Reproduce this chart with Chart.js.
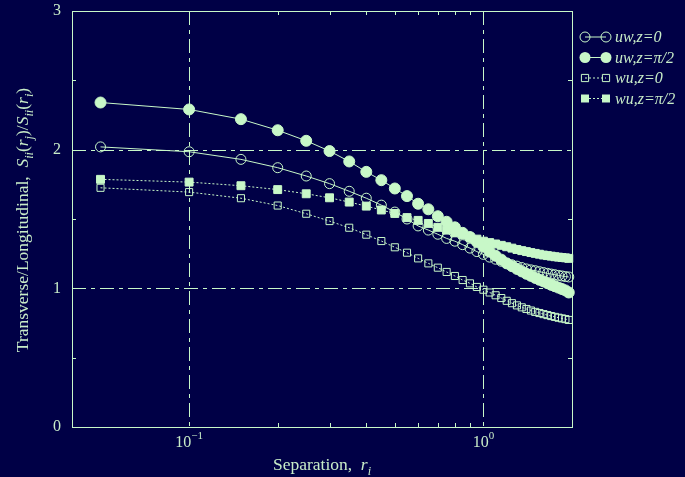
<!DOCTYPE html>
<html lang="en">
<head>
<meta charset="UTF-8">
<title>Transverse/Longitudinal</title>
<script src="https://cdn.jsdelivr.net/npm/chart.js"></script>
<style>
  html, body { margin: 0; padding: 0; background: #000046; }
  #wrap { width: 685px; height: 477px; }
</style>
</head>
<body>
<div id="wrap"><canvas id="ratioChart"></canvas></div>
<script>
// separations r
const sep = [0.05, 0.10, 0.15, 0.20, 0.25, 0.30, 0.35, 0.40, 0.45, 0.50,
             0.55, 0.60, 0.65, 0.70, 0.75, 0.80, 0.85, 0.90, 0.95, 1.00,
             1.05, 1.10, 1.15, 1.20, 1.25, 1.30, 1.35, 1.40, 1.45, 1.50,
             1.55, 1.60, 1.65, 1.70, 1.75, 1.80, 1.85, 1.90, 1.95];

const uwZ0 = [2.02, 1.985, 1.93, 1.87, 1.81, 1.755, 1.70, 1.65, 1.60, 1.55,
              1.50, 1.45, 1.42, 1.39, 1.36, 1.34, 1.315, 1.29, 1.265, 1.245,
              1.225, 1.21, 1.195, 1.18, 1.17, 1.16, 1.15, 1.14, 1.133, 1.127,
              1.12, 1.114, 1.108, 1.103, 1.098, 1.093, 1.089, 1.085, 1.082];
const uwZpi = [2.34, 2.29, 2.22, 2.14, 2.064, 1.99, 1.915, 1.84, 1.78, 1.72,
               1.665, 1.61, 1.57, 1.52, 1.48, 1.44, 1.40, 1.37, 1.335, 1.30,
               1.265, 1.235, 1.207, 1.18, 1.16, 1.14, 1.122, 1.105, 1.09, 1.075,
               1.062, 1.05, 1.037, 1.025, 1.015, 1.005, 0.995, 0.985, 0.97];
const wuZ0 = [1.725, 1.694, 1.65, 1.597, 1.538, 1.485, 1.437, 1.387, 1.341, 1.296,
              1.257, 1.216, 1.18, 1.149, 1.118, 1.089, 1.06, 1.036, 1.01, 0.99,
              0.97, 0.95, 0.93, 0.91, 0.893, 0.877, 0.863, 0.851, 0.84, 0.83,
              0.822, 0.814, 0.807, 0.80, 0.794, 0.788, 0.783, 0.778, 0.772];
const wuZpi = [1.786, 1.766, 1.74, 1.712, 1.682, 1.653, 1.622, 1.593, 1.565, 1.54,
               1.51, 1.49, 1.468, 1.44, 1.42, 1.40, 1.385, 1.37, 1.355, 1.34,
               1.33, 1.32, 1.31, 1.30, 1.29, 1.28, 1.272, 1.265, 1.258, 1.252,
               1.246, 1.24, 1.236, 1.232, 1.228, 1.225, 1.222, 1.22, 1.216];

const xGrid = [0.1, 1];
const xMinor = [0.2, 0.3, 0.4, 0.5, 0.6, 0.7, 0.8, 0.9];
const xTickLabels = [[0.1, '10', '\u22121'], [1, '10', '0']];
const yGrid = [1, 2];
const yTicks = [0, 1, 2, 3];
const yMinor = [0.5, 1.5, 2.5];

const bg = '#000046';
const ink = '#c8f8c8';
const textInk = '#c8ecc8';
const serif = '"Liberation Serif", "Times New Roman", serif';

function pts(ys) {
  return sep.map((r, i) => ({ x: r, y: ys[i] }));
}

const series = [
  { label: 'uw,z=0',   data: pts(uwZ0),  style: 'circle', filled: false, dash: [] },
  { label: 'uw,z=\u03c0/2', data: pts(uwZpi), style: 'circle', filled: true, dash: [] },
  { label: 'wu,z=0',   data: pts(wuZ0),  style: 'rect', filled: false, dash: [2, 2] },
  { label: 'wu,z=\u03c0/2', data: pts(wuZpi), style: 'rect', filled: true, dash: [2, 2] }
];

// draw a run of text pieces: [text, italic, sub]
function richWidth(ctx, segs, size) {
  let w = 0;
  segs.forEach(s => {
    ctx.font = (s[1] ? 'italic ' : '') + (s[2] ? size * 0.7 : size) + 'px ' + serif;
    w += ctx.measureText(s[0]).width;
  });
  return w;
}
function drawRich(ctx, segs, x, y, size) {
  let cx = x - richWidth(ctx, segs, size) / 2;
  ctx.textAlign = 'left';
  ctx.textBaseline = 'alphabetic';
  segs.forEach(s => {
    ctx.font = (s[1] ? 'italic ' : '') + (s[2] ? size * 0.7 : size) + 'px ' + serif;
    ctx.fillText(s[0], cx, y + (s[2] ? size * 0.3 : 0));
    cx += ctx.measureText(s[0]).width;
  });
}

function marker(ctx, style, filled, x, y) {
  ctx.beginPath();
  if (style === 'circle') {
    ctx.arc(x, y, filled ? 5.5 : 5, 0, Math.PI * 2);
  } else {
    const h = filled ? 4 : 3.6;
    ctx.rect(x - h, y - h, 2 * h, 2 * h);
  }
  if (filled) ctx.fill(); else ctx.stroke();
}

const framePlugin = {
  id: 'frame',
  beforeDraw(chart) {
    const ctx = chart.ctx;
    ctx.save();
    ctx.fillStyle = bg;
    ctx.fillRect(0, 0, chart.width, chart.height);
    ctx.restore();
  },
  beforeDatasetsDraw(chart) {
    const { ctx, chartArea: a, scales: { x, y } } = chart;
    ctx.save();
    ctx.strokeStyle = ink;
    ctx.lineWidth = 1;
    ctx.setLineDash([14, 5, 4, 5]);
    xGrid.forEach(v => {
      const px = Math.round(x.getPixelForValue(v)) + 0.5;
      ctx.beginPath(); ctx.moveTo(px, a.top); ctx.lineTo(px, a.bottom); ctx.stroke();
    });
    yGrid.forEach(v => {
      const py = Math.round(y.getPixelForValue(v)) + 0.5;
      ctx.beginPath(); ctx.moveTo(a.left, py); ctx.lineTo(a.right, py); ctx.stroke();
    });
    ctx.setLineDash([]);
    // minor ticks, inward on every side
    xMinor.forEach(v => {
      const px = Math.round(x.getPixelForValue(v)) + 0.5;
      ctx.beginPath();
      ctx.moveTo(px, a.bottom); ctx.lineTo(px, a.bottom - 4);
      ctx.moveTo(px, a.top); ctx.lineTo(px, a.top + 4);
      ctx.stroke();
    });
    yMinor.forEach(v => {
      const py = Math.round(y.getPixelForValue(v)) + 0.5;
      ctx.beginPath();
      ctx.moveTo(a.left, py); ctx.lineTo(a.left + 4, py);
      ctx.moveTo(a.right, py); ctx.lineTo(a.right - 4, py);
      ctx.stroke();
    });
    ctx.strokeRect(Math.round(a.left) + 0.5, Math.round(a.top) + 0.5,
                   Math.round(a.right - a.left), Math.round(a.bottom - a.top));
    ctx.restore();
  },
  afterDraw(chart) {
    const { ctx, chartArea: a, scales: { x, y } } = chart;
    ctx.save();
    ctx.fillStyle = textInk;
    // y tick labels
    ctx.font = '16px ' + serif;
    ctx.textAlign = 'right';
    ctx.textBaseline = 'middle';
    yTicks.forEach(v => ctx.fillText(String(v), 61, y.getPixelForValue(v)));
    // x tick labels 10^n
    xTickLabels.forEach(t => {
      const px = x.getPixelForValue(t[0]);
      ctx.font = '16px ' + serif;
      const wb = ctx.measureText(t[1]).width;
      ctx.font = '11px ' + serif;
      const we = ctx.measureText(t[2]).width;
      const left = px - (wb + we) / 2;
      ctx.textAlign = 'left';
      ctx.textBaseline = 'alphabetic';
      ctx.font = '16px ' + serif;
      ctx.fillText(t[1], left, 447);
      ctx.font = '11px ' + serif;
      ctx.fillText(t[2], left + wb, 439);
    });
    // axis titles
    drawRich(ctx, [['Separation,  ', false, false], ['r', true, false], ['i', true, true]],
             (a.left + a.right) / 2, 470, 17.5);
    ctx.save();
    ctx.translate(28, 220);
    ctx.rotate(-Math.PI / 2);
    drawRich(ctx, [['Transverse/Longitudinal,  ', false, false], ['S', true, false], ['ii', true, true],
                   ['(', false, false], ['r', true, false], ['j', true, true], [')/', false, false],
                   ['S', true, false], ['ii', true, true], ['(', false, false], ['r', true, false],
                   ['i', true, true], [')', false, false]], 0, 0, 17.5);
    ctx.restore();
    // legend
    series.forEach((s, i) => {
      const ly = 37 + i * 20.5;
      ctx.strokeStyle = ink;
      ctx.fillStyle = ink;
      ctx.lineWidth = 1;
      ctx.setLineDash(s.dash);
      ctx.beginPath(); ctx.moveTo(585, ly); ctx.lineTo(606, ly); ctx.stroke();
      ctx.setLineDash([]);
      marker(ctx, s.style, s.filled, 585, ly);
      marker(ctx, s.style, s.filled, 606, ly);
      ctx.fillStyle = textInk;
      ctx.font = 'italic 16px ' + serif;
      ctx.textAlign = 'left';
      ctx.textBaseline = 'middle';
      ctx.fillText(s.label, 615, ly + 1);
    });
    ctx.restore();
  }
};

const ctx = document.getElementById('ratioChart').getContext('2d');
new Chart(ctx, {
  type: 'line',
  data: {
    datasets: series.map(s => ({
      label: s.label,
      data: s.data,
      borderColor: ink,
      borderWidth: 1,
      borderDash: s.dash,
      backgroundColor: s.filled ? ink : 'rgba(0,0,0,0)',
      pointBackgroundColor: s.filled ? ink : 'rgba(0,0,0,0)',
      pointBorderColor: ink,
      pointBorderWidth: 1,
      pointStyle: s.style,
      pointRadius: s.style === 'circle' ? (s.filled ? 5.5 : 5) : (s.filled ? 5.6 : 5.0),
      tension: 0,
      fill: false,
      clip: false
    }))
  },
  options: {
    responsive: true,
    maintainAspectRatio: false,
    animation: false,
    layout: { padding: { left: 72, right: 113, top: 11, bottom: 50 } },
    scales: {
      x: { type: 'logarithmic', min: 0.04, max: 2, display: false },
      y: { type: 'linear', min: 0, max: 3, display: false }
    },
    plugins: {
      legend: { display: false },
      tooltip: { enabled: false }
    }
  },
  plugins: [framePlugin]
});
</script>
</body>
</html>
